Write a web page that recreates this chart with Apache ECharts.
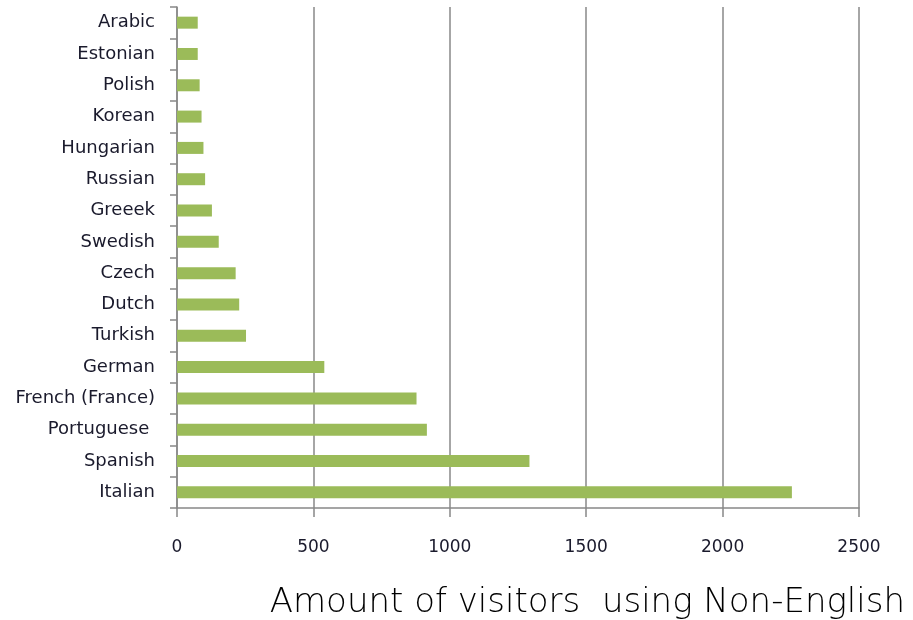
<!DOCTYPE html>
<html>
<head>
<meta charset="utf-8">
<script src="https://cdn.jsdelivr.net/npm/echarts@6/dist/echarts.min.js"></script>
<style>
  html, body { margin: 0; padding: 0; background: #ffffff; }
  #chart { width: 913px; height: 620px; }
</style>
</head>
<body>
<div id="chart"></div>
<script>
// Languages, listed from top to bottom of the chart
const languages = [
  'Arabic', 'Estonian', 'Polish', 'Korean', 'Hungarian', 'Russian', 'Greeek', 'Swedish',
  'Czech', 'Dutch', 'Turkish', 'German', 'French (France)', 'Portuguese ', 'Spanish', 'Italian'
];
// Visitor counts per language
const visitors = [
  76, 76, 83, 90, 97, 103, 128, 153,
  215, 228, 253, 540, 878, 916, 1292, 2254
];
// Value axis range and step
const axisMin = 0;
const axisMax = 2500;
const axisStep = 500;
const titleText = 'Amount of visitors  using Non-English';

const chart = echarts.init(document.getElementById('chart'), null, { renderer: 'canvas' });
const gridGray = '#888888';
const labelColor = '#1a1a2c';

chart.setOption({
  animation: false,
  backgroundColor: '#ffffff',
  title: {
    text: titleText,
    right: 3,
    top: 581,
    textStyle: {
      fontFamily: 'DejaVu Sans',
      fontWeight: 200,
      fontSize: 34,
      color: '#000000'
    }
  },
  grid: { left: 177, right: 54, top: 7, bottom: 112, containLabel: false },
  xAxis: {
    type: 'value',
    min: axisMin,
    max: axisMax,
    interval: axisStep,
    axisLine: { show: true, lineStyle: { color: gridGray, width: 1.5 } },
    axisTick: { show: true, length: 9, lineStyle: { color: gridGray, width: 1.5 } },
    splitLine: { show: true, lineStyle: { color: gridGray, width: 1.5 } },
    axisLabel: {
      margin: 31,
      fontFamily: 'DejaVu Sans',
      fontSize: 17,
      color: labelColor,
      formatter: (v) => String(v)
    }
  },
  yAxis: {
    type: 'category',
    data: languages,
    inverse: true,
    axisLine: { show: true, lineStyle: { color: gridGray, width: 1.5 } },
    axisTick: { show: true, length: 7, lineStyle: { color: gridGray, width: 1.5 } },
    splitLine: { show: false },
    axisLabel: {
      margin: 22,
      fontFamily: 'DejaVu Sans',
      fontSize: 18,
      color: labelColor
    }
  },
  series: [{
    type: 'bar',
    data: visitors,
    barWidth: 12,
    itemStyle: { color: '#9bbb59' }
  }]
});
</script>
</body>
</html>
